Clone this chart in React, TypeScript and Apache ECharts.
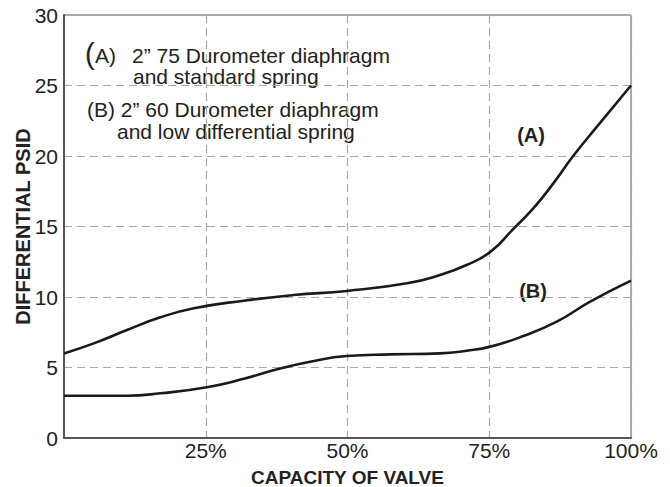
import React, { useEffect, useRef } from "react";
import * as echarts from "echarts";

// Curve (A): 2" 75 Durometer diaphragm and standard spring
const capacityA = [0, 5.25, 11.1, 17, 22.9, 31.7, 40.5, 49.9, 60.5, 66.3, 71, 75.2, 79.3, 82.8, 86.3, 89.8, 94, 100];
const psidA = [6.0, 6.71, 7.66, 8.56, 9.2, 9.74, 10.14, 10.43, 10.97, 11.56, 12.27, 13.2, 14.85, 16.3, 18.06, 20.0, 22.08, 25.0];

// Curve (B): 2" 60 Durometer diaphragm and low differential spring
const capacityB = [0, 11.1, 17, 25.2, 31.7, 37.6, 43.4, 49.9, 57.5, 66.3, 71, 75.2, 81, 86.9, 92.8, 100];
const psidB = [3.0, 3.0, 3.17, 3.6, 4.2, 4.87, 5.41, 5.82, 5.93, 6.0, 6.19, 6.48, 7.23, 8.25, 9.67, 11.16];

const xTicks = [0, 25, 50, 75, 100];
const yTicks = [0, 5, 10, 15, 20, 25, 30];

const legendLines = [
  "2\u201D 75 Durometer diaphragm",
  "and standard spring",
  "(B) 2\u201D 60 Durometer diaphragm",
  "and low differential spring",
];
const curveLabels = ["(A)", "(B)"];
const xTitle = "CAPACITY OF VALVE";
const yTitle = "DIFFERENTIAL PSID";

const NARROW = "'Liberation Sans Narrow', 'Liberation Sans', Arial, sans-serif";
const SANS = "'Liberation Sans', Arial, sans-serif";
const TEXT = "#222";
const AXIS = "#555";
const GRID = "#aaa";

export default function App() {
  const ref = useRef<HTMLDivElement>(null);

  useEffect(() => {
    if (!ref.current) return;
    const chart = echarts.init(ref.current, undefined, { renderer: "svg" });

    const lineStyle = { color: "#1a1a1a", width: 2.6 };
    const legendText = (text: string, x: number, y: number, size = 21) => ({
      type: "text",
      x,
      y,
      silent: true,
      style: {
        text,
        fontFamily: SANS,
        fontSize: size,
        fill: TEXT,
        align: "left",
        verticalAlign: "middle",
      },
    });
    const curveLabel = (text: string, x: number, y: number) => ({
      type: "text",
      x,
      y,
      silent: true,
      style: {
        text,
        fontFamily: SANS,
        fontWeight: "bold",
        fontSize: 20,
        fill: TEXT,
        align: "center",
        verticalAlign: "middle",
      },
    });

    chart.setOption({
      animation: false,
      backgroundColor: "#fff",
      grid: {
        left: 64,
        right: 39,
        top: 15,
        bottom: 49,
        outerBoundsMode: "none",
        containLabel: false,
        show: true,
        borderColor: AXIS,
        borderWidth: 1,
        backgroundColor: "transparent",
      },
      xAxis: {
        type: "value",
        min: xTicks[0],
        max: xTicks[xTicks.length - 1],
        interval: xTicks[1] - xTicks[0],
        name: xTitle,
        nameLocation: "middle",
        nameGap: 30,
        nameMoveOverlap: false,
        nameTextStyle: { fontFamily: NARROW, fontWeight: "bold", fontSize: 19, color: TEXT },
        axisLine: { show: true, lineStyle: { color: AXIS, width: 2 } },
        axisTick: { show: false },
        axisLabel: {
          fontFamily: NARROW,
          fontSize: 21,
          color: TEXT,
          margin: 2,
          formatter: (v: number) => (v === 0 ? "" : `${v}%`),
        },
        splitLine: { show: true, lineStyle: { color: GRID, width: 1.2, type: [8, 5] } },
      },
      yAxis: {
        type: "value",
        min: yTicks[0],
        max: yTicks[yTicks.length - 1],
        interval: yTicks[1] - yTicks[0],
        name: yTitle,
        nameLocation: "middle",
        nameGap: 31,
        nameMoveOverlap: false,
        nameTextStyle: { fontFamily: NARROW, fontWeight: "bold", fontSize: 20, color: TEXT },
        axisLine: { show: true, lineStyle: { color: AXIS, width: 2 } },
        axisTick: { show: false },
        axisLabel: { fontFamily: NARROW, fontSize: 21, color: TEXT, margin: 6 },
        splitLine: { show: true, lineStyle: { color: GRID, width: 1.2, type: [8, 5] } },
      },
      series: [
        {
          type: "line",
          data: capacityA.map((x, i) => [x, psidA[i]]),
          smooth: 0.5,
          showSymbol: false,
          lineStyle,
        },
        {
          type: "line",
          data: capacityB.map((x, i) => [x, psidB[i]]),
          smooth: 0.5,
          showSymbol: false,
          lineStyle,
        },
      ],
      graphic: [
        legendText("(", 85, 54, 29),
        legendText("A)", 95, 55),
        legendText(legendLines[0], 132, 55),
        legendText(legendLines[1], 133, 76),
        legendText(legendLines[2], 87, 109),
        legendText(legendLines[3], 117, 131),
        curveLabel(curveLabels[0], 531, 135),
        curveLabel(curveLabels[1], 533, 291),
      ],
    });

    return () => chart.dispose();
  }, []);

  return (
    <div
      ref={ref}
      style={{ position: "fixed", left: 0, top: 0, width: 670, height: 487, background: "#fff" }}
    />
  );
}
